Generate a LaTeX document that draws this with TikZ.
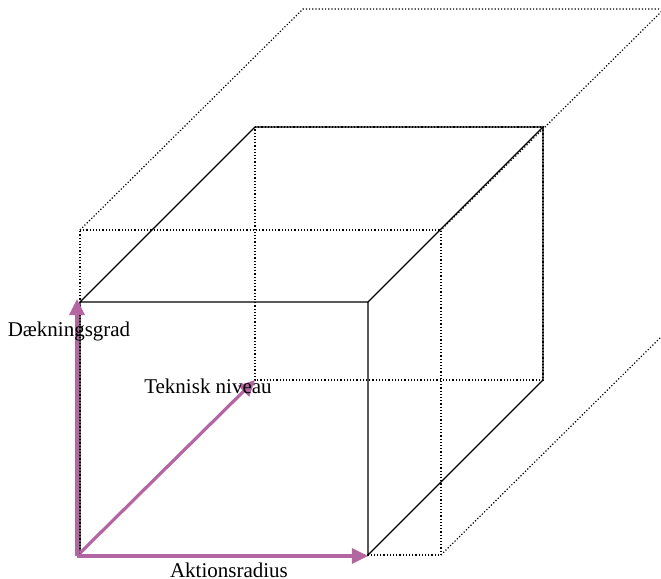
\documentclass[tikz,border=0pt]{standalone}
\usepackage{fontspec}
\setmainfont{Liberation Serif}
\definecolor{axmauve}{RGB}{180,102,162}
\usetikzlibrary{arrows.meta}

\begin{document}
\begin{tikzpicture}[x=0.5pt,y=-0.5pt,
  edge/.style={black,line width=0.7pt},
  hidden/.style={black,line width=0.6pt,dash pattern=on 0.6pt off 1pt},
  axis/.style={axmauve,line width=1.6pt,-{Triangle[length=8pt,width=7.5pt]}},
  lbl/.style={font=\fontsize{10.5}{12}\selectfont,inner sep=0pt}
]
  \clip (0,0) rectangle (661,579);
  \useasboundingbox (0,0) rectangle (661,579);

  % outer box (dotted)
  \coordinate (p) at (80,230);
  \coordinate (q) at (441,230);
  \coordinate (r) at (441,555);
  \coordinate (s) at (80,555);
  \coordinate (t) at (303,9);
  \coordinate (u) at (664,9);
  \coordinate (v) at (664,334);
  \draw[hidden] (p) -- (q) -- (r) -- (s) -- cycle;
  \draw[hidden] (p) -- (t) -- (u) -- (q);
  \draw[hidden] (r) -- (v);

  % cube
  \coordinate (a) at (80,302);
  \coordinate (b) at (368,302);
  \coordinate (c) at (368,555);
  \coordinate (e) at (255,127);
  \coordinate (f) at (543,127);
  \coordinate (g) at (543,380);
  \coordinate (h) at (255,380);
  \draw[hidden] (e) -- (f) -- (g) -- (h) -- cycle;
  \draw[edge] (s) -- (a) -- (b) -- (c) -- (g) -- (f) -- (e) -- (a);
  \draw[edge] (b) -- (f);

  % axes
  \coordinate (o) at (77,556);
  \coordinate (oy) at (77,299);
  \coordinate (ox) at (368,556);
  \coordinate (od) at (80,553);
  \draw[axis] (o) -- (oy);
  \draw[axis] (o) -- (ox);
  \draw[axis] (od) -- (h);

  \node[lbl] (dgrad) at (69,331) {Dækningsgrad};
  \node[lbl] (tniv) at (208,386) {Teknisk niveau};
  \node[lbl] (arad) at (229,570) {Aktionsradius};
\end{tikzpicture}
\end{document}
